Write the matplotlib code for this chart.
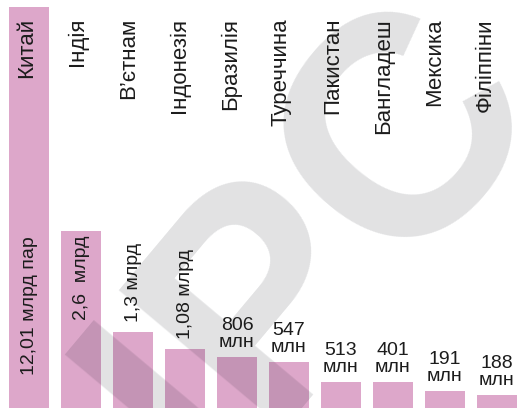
import numpy as np
import matplotlib
matplotlib.use('Agg')
import matplotlib.pyplot as plt

# infographic data (bars are drawn to the picture's own, non-linear lengths)
countries = ['Китай', 'Індія', 'В’єтнам', 'Індонезія', 'Бразилія',
             'Туреччина', 'Пакистан', 'Бангладеш', 'Мексика', 'Філіппіни']
value_labels = ['12,01 млрд пар', '2,6  млрд', '1,3 млрд', '1,08 млрд', '806\nмлн',
                '547\nмлн', '513\nмлн', '401\nмлн', '191\nмлн', '188\nмлн']
bar_heights = [401, 177, 76, 59, 51, 46, 26, 26, 17, 13]

PINK = '#dda7ca'
INK = '#1c1c1c'
FONT = 'Liberation Sans'

fig = plt.figure(figsize=(5.21, 4.08), dpi=100)
ax = fig.add_axes([0, 0, 1, 1])
ax.set_xlim(-29 / 52, 492 / 52)
ax.set_ylim(0, 408)
ax.axis('off')

x = np.arange(len(countries))
ax.bar(x, bar_heights, width=40 / 52, color=PINK, zorder=1)

# watermark
ax.text(4.62, 110, 'UPC', rotation=50, fontsize=225, fontweight='bold',
        family=FONT, color='#0a0c18', alpha=0.12,
        ha='center', va='center', zorder=2)

for i, name in enumerate(countries):
    ax.text(-0.04 + 0.979 * i, 390, name, rotation=90, ha='center', va='top',
            fontsize=16, family=FONT, color=INK, zorder=3)

for i, lab in enumerate(value_labels):
    h = bar_heights[i]
    if i < 2:
        ax.text(i, bar_heights[1] - 5, lab, rotation=90, ha='center', va='top',
                fontsize=14, family=FONT, color=INK, zorder=3)
    elif i < 4:
        ax.text(i, h + 10, lab, rotation=90, ha='center', va='bottom',
                fontsize=14, family=FONT, color=INK, zorder=3)
    else:
        ax.text(i, h + 6, lab, ha='center', va='bottom', linespacing=1.0,
                fontsize=14, family=FONT, color=INK, zorder=3)

fig.savefig('out.png', dpi=100)
